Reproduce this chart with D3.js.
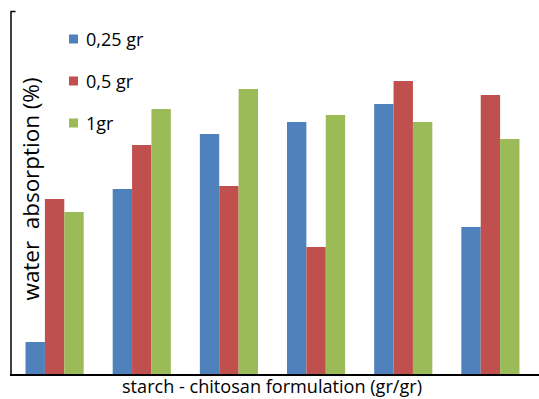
<!DOCTYPE html>
<html>
<head>
<meta charset="utf-8">
<script src="https://cdn.jsdelivr.net/npm/d3@7"></script>
<style>
  body { margin: 0; background: #fff; }
  svg { display: block; font-family: "Open Sans", "Liberation Sans", sans-serif; }
</style>
</head>
<body>
<script>
// chart size
const width = 539;
const height = 399;

// formulations (no labels are printed under the groups)
const formulations = ["F1", "F2", "F3", "F4", "F5", "F6"];
const seriesNames = ["0,25 gr", "0,5 gr", "1gr"];
const seriesColors = ["#4F81BD", "#C0504D", "#9BBB59"];

// no y ticks so units are relative
const s025 = [33, 186, 241, 253, 271, 148];
const s05 = [176, 230, 189, 128, 294, 280];
const s1 = [163, 266, 286, 260, 253, 236];
const seriesValues = [s025, s05, s1];

const yMax = 364;

const svg = d3.select("body")
  .append("svg")
  .attr("width", width)
  .attr("height", height);

const x0 = d3.scaleBand()
  .domain(formulations)
  .range([11, 534])
  .paddingInner(0.333)
  .paddingOuter(0.1667);

const x1 = d3.scaleBand()
  .domain(seriesNames)
  .range([0, x0.bandwidth()]);

const y = d3.scaleLinear()
  .domain([0, yMax])
  .range([375, 11]);

const colour = d3.scaleOrdinal()
  .domain(seriesNames)
  .range(seriesColors);

// bars
const groups = svg.append("g")
  .selectAll("g")
  .data(formulations)
  .enter()
  .append("g")
  .attr("transform", d => `translate(${x0(d)},0)`);

groups.selectAll("rect")
  .data((d, i) => seriesNames.map((s, j) => ({ key: s, value: seriesValues[j][i] })))
  .enter()
  .append("rect")
  .attr("x", d => x1(d.key))
  .attr("y", d => y(d.value))
  .attr("width", x1.bandwidth())
  .attr("height", d => y(0) - y(d.value))
  .attr("fill", d => colour(d.key));

// axes
const xAxis = svg.append("g")
  .attr("transform", `translate(0,${y(0)})`)
  .call(d3.axisBottom(x0).tickSize(0).tickFormat(""));
xAxis.select(".domain")
  .attr("d", "M10,0H539")
  .attr("stroke", "#000")
  .attr("stroke-width", 2);

const yAxis = svg.append("g")
  .attr("transform", "translate(10.5,0)")
  .call(d3.axisLeft(y).tickValues([yMax]).tickSizeInner(-5).tickSizeOuter(0).tickFormat(""));
yAxis.select(".domain").attr("stroke", "#000").attr("stroke-width", 1.5);
yAxis.selectAll(".tick line").attr("stroke", "#000").attr("stroke-width", 1.5);

// axis titles
svg.append("text")
  .attr("transform", "translate(39,189) rotate(-90)")
  .attr("text-anchor", "middle")
  .attr("textLength", 223)
  .attr("lengthAdjust", "spacingAndGlyphs")
  .style("font-size", "21px")
  .style("white-space", "pre")
  .attr("fill", "#000")
  .text("water  absorption (%)");

svg.append("text")
  .attr("x", 272)
  .attr("y", 393)
  .attr("text-anchor", "middle")
  .attr("textLength", 300)
  .attr("lengthAdjust", "spacingAndGlyphs")
  .style("font-size", "17.5px")
  .attr("fill", "#000")
  .text("starch - chitosan formulation (gr/gr)");

// legend
const legend = svg.append("g")
  .selectAll("g")
  .data(seriesNames)
  .enter()
  .append("g")
  .attr("transform", (d, i) => `translate(69,${39 + i * 42})`);

legend.append("rect")
  .attr("x", 0)
  .attr("y", -4.5)
  .attr("width", 9)
  .attr("height", 9)
  .attr("fill", d => colour(d));

legend.append("text")
  .attr("x", 17)
  .attr("y", 6.5)
  .style("font-size", "18px")
  .attr("fill", "#000")
  .text(d => d);
</script>
</body>
</html>
